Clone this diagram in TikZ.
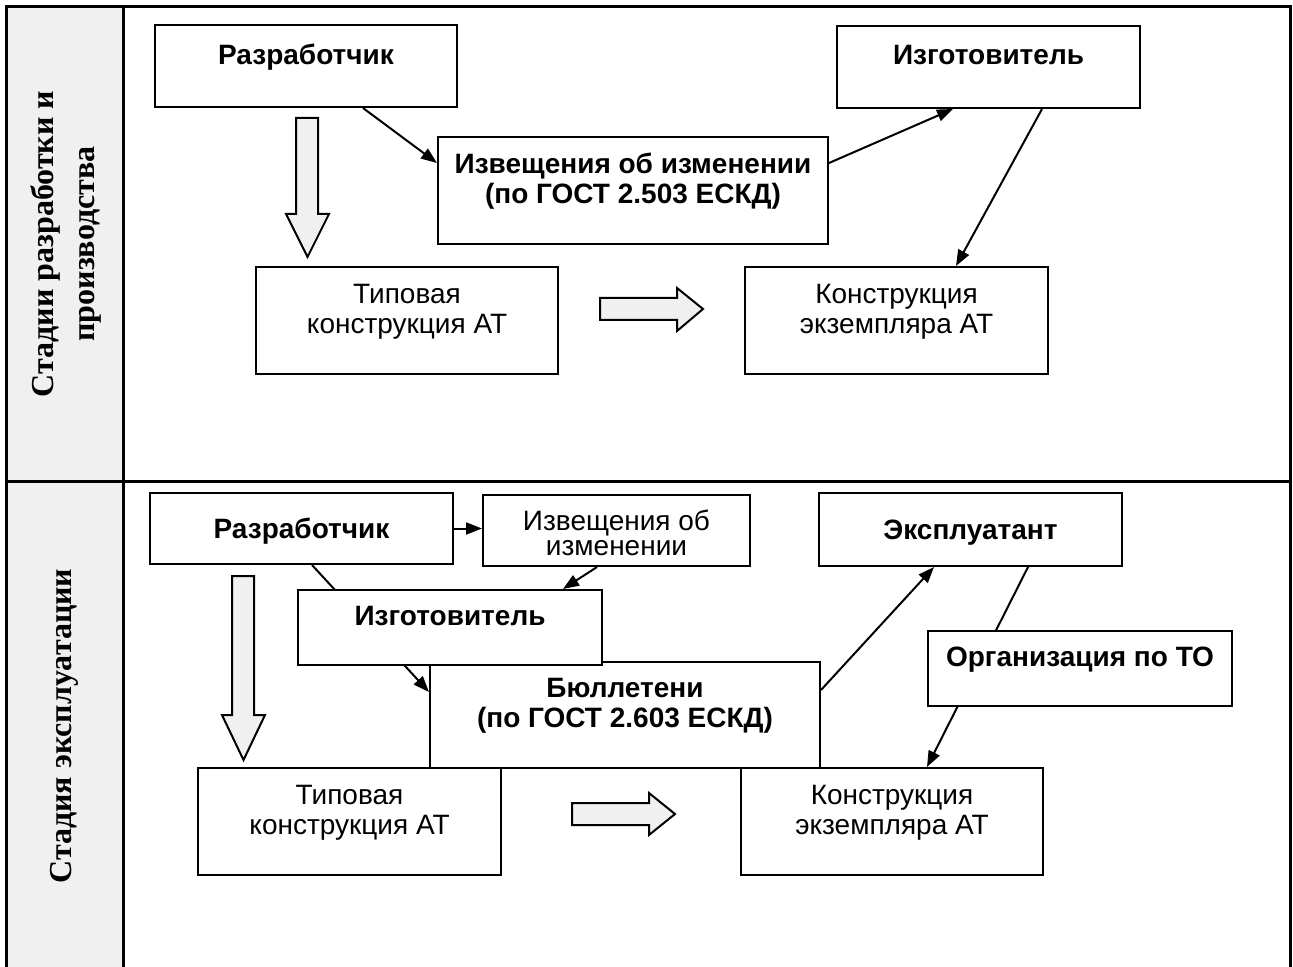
\documentclass[tikz,border=0pt]{standalone}
\usepackage{fontspec}
\setmainfont{Liberation Sans}
\newfontfamily\stagefont{Liberation Serif}
\usepackage{tikz}
\usetikzlibrary{arrows.meta,calc,backgrounds}
\definecolor{panelgray}{RGB}{240,240,240}

\begin{document}
\begin{tikzpicture}[
    x=0.5pt, y=-0.5pt,
    >={Triangle[length=8pt,width=6pt]},
    line width=1pt,
    box/.style={rectangle, draw, fill=white, align=center, inner sep=3pt, text depth=0pt,
                font=\fontsize{14pt}{15pt}\selectfont},
    topbox/.style={box, text depth=12pt},
    bold/.style={font=\fontsize{14pt}{15pt}\selectfont\bfseries},
    stage/.style={rotate=90, align=center,
                  font=\stagefont\bfseries\fontsize{16pt}{20.5pt}\selectfont},
    blockarrow/.style={draw, fill=panelgray, line width=1pt, line join=miter},
    link/.style={->, line width=1pt},
    frame/.style={line width=1.5pt}
]
  \useasboundingbox (0,0) rectangle (1293,967);

  % frame
  \fill[panelgray] (6,7) rectangle (123,967);
  \draw[frame] (6,967) -- (6,7) -- (1290,7) -- (1290,967);
  \draw[frame] (123,7) -- (123,967);
  \draw[frame] (6,481) -- (1290,481);
  \node[stage] (stageA) at (66,244) {Стадии разработки и\\производства};
  \node[stage] (stageB) at (64,726) {Стадия эксплуатации};

  % nodes, development and production
  \node[topbox, bold, minimum width=151pt, minimum height=41pt] (devA) at (306,66) {Разработчик};
  \node[topbox, bold, minimum width=195pt, minimum height=53.5pt] (noticeA) at (633,190.5)
    {Извещения об изменении\\(по ГОСТ 2.503 ЕСКД)};
  \node[topbox, bold, minimum width=151.5pt, minimum height=41pt] (makerA) at (988.5,67) {Изготовитель};
  \node[topbox, minimum width=151pt, minimum height=53.5pt] (typA) at (407,320.5)
    {Типовая\\конструкция АТ};
  \node[topbox, minimum width=151.5pt, minimum height=53.5pt] (instA) at (896.5,320.5)
    {Конструкция\\экземпляра АТ};

  % edges, development and production
  \draw[link] ([xshift=28.5pt]devA.south) -- ([yshift=13.75pt]noticeA.west);
  \draw[link] ([yshift=13.75pt]noticeA.east) -- ([xshift=-17.75pt]makerA.south);
  \draw[link] ([xshift=26.75pt]makerA.south) -- ([xshift=29.75pt]instA.north);
  \draw[blockarrow] (296,118) -- (318,118) -- (318,214) -- (329,214) -- (307.5,257)
    -- (286,214) -- (296,214) -- cycle;
  \draw[blockarrow] (600,298) -- (677,298) -- (677,288) -- (703,309) -- (677,331)
    -- (677,320) -- (600,320) -- cycle;

  % nodes, operation
  \node[box, bold, minimum width=151.5pt, minimum height=35.5pt] (devB) at (301.5,528.5) {Разработчик};
  \node[box, minimum width=133.5pt, minimum height=35.5pt, text height=25pt,
        font=\fontsize{14pt}{12.5pt}\selectfont] (noticeB) at (616.5,530.5) {Извещения об\\изменении};
  \node[box, bold, minimum width=151.5pt, minimum height=36.5pt] (opB) at (970.5,529.5) {Эксплуатант};
  \node[topbox, bold, minimum width=195pt, minimum height=53pt] (bullB) at (625,715)
    {Бюллетени\\(по ГОСТ 2.603 ЕСКД)};
  \node[topbox, bold, minimum width=152pt, minimum height=37.5pt] (makerB) at (450,627.5) {Изготовитель};
  \node[topbox, bold, minimum width=152pt, minimum height=37.5pt] (mroB) at (1080,668.5) {Организация по ТО};
  \node[topbox, minimum width=151.5pt, minimum height=53.5pt] (typB) at (349.5,821.5)
    {Типовая\\конструкция АТ};
  \node[topbox, minimum width=151pt, minimum height=53.5pt] (instB) at (892,821.5)
    {Конструкция\\экземпляра АТ};

  % edges, operation
  \begin{scope}[on background layer]
    \draw[link] ([xshift=5.25pt]devB.south) -- ([yshift=11.5pt]bullB.west);
    \draw[link] ([xshift=28.75pt]opB.south) -- ([xshift=17.5pt]instB.north);
  \end{scope}
  \draw[link] (devB.east) -- (devB.east -| noticeB.west);
  \draw[link] ([xshift=-9.75pt]noticeB.south) -- ([xshift=56.5pt]makerB.north);
  \draw[link] ([yshift=12.5pt]bullB.east) -- ([xshift=-18.25pt]opB.south);
  \draw[blockarrow] (232,576) -- (254,576) -- (254,715) -- (265,715) -- (243.5,760)
    -- (222,715) -- (232,715) -- cycle;
  \draw[blockarrow] (572,803) -- (649,803) -- (649,793) -- (675,814) -- (649,835)
    -- (649,825) -- (572,825) -- cycle;
\end{tikzpicture}
\end{document}
